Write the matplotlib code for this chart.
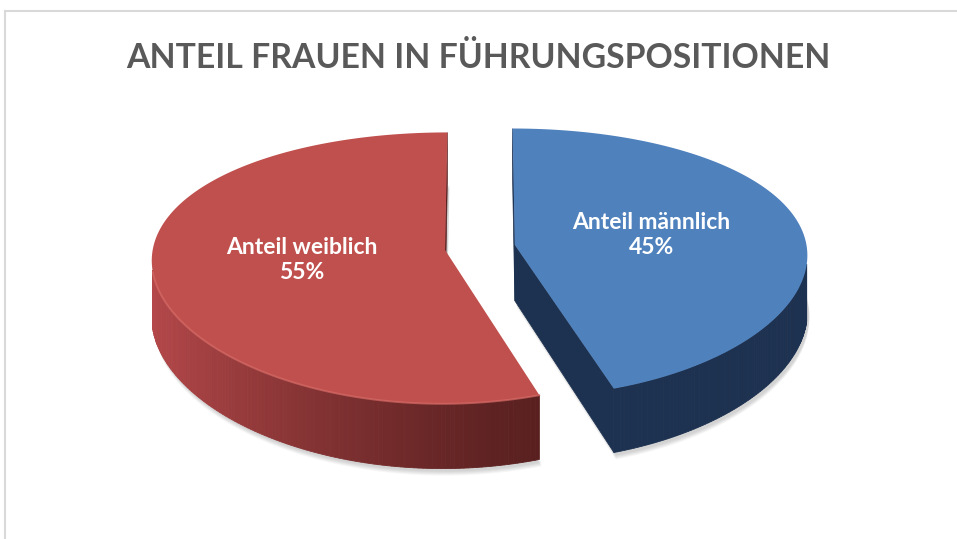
import numpy as np
import matplotlib.pyplot as plt
from matplotlib.lines import Line2D

# data
labels = ["Anteil männlich", "Anteil weiblich"]
values = [45, 55]
top_colors = ["#4F81BD", "#C0504D"]
wall_light = ["#25416A", "#B5484A"]
wall_dark = ["#1D3150", "#5A2020"]
title = "ANTEIL FRAUEN IN FÜHRUNGSPOSITIONEN"

# fake 3d projection (pixel space, y down)
CX, CY = 480, 247.5
RX, RY = 292, 132.6
H = 56
PX, PY = 0.07, 0.133   # perspective strength, horizontal / vertical
E = 0.121              # explode distance
CAM = np.array([0.0, -1.0 / PY])


def proj(X, Y, Z):
    wx = 1 + PX * Y
    wy = 1 + PY * Y
    return CX + RX * X / wx, CY - (RY * Y + H * Z) / wy


def mix(c1, c2, t):
    a = np.array(plt.matplotlib.colors.to_rgb(c1))
    b = np.array(plt.matplotlib.colors.to_rgb(c2))
    return tuple(b + (a - b) * t)


fig = plt.figure(figsize=(9.57, 5.39), dpi=100)
ax = fig.add_axes([0, 0, 1, 1])
ax.set_xlim(0, 957)
ax.set_ylim(539, 0)
ax.axis("off")

# chart frame
fig.add_artist(Line2D([4.5 / 957, 4.5 / 957], [0, 1 - 10.5 / 539], color="#D9D9D9", lw=1.5))
fig.add_artist(Line2D([4.5 / 957, 1], [1 - 10.5 / 539, 1 - 10.5 / 539], color="#D9D9D9", lw=1.5))

fig.text(0.5, 1 - 58 / 539, title, ha="center", va="center", fontsize=24.3,
         fontweight="bold", color="#595959", family="Lato")

total = float(sum(values))
start = 0.0
for i, v in enumerate(values):
    t1 = start
    t2 = start + 2 * np.pi * v / total
    start = t2
    tm = (t1 + t2) / 2
    ox, oy = E * np.sin(tm), E * np.cos(tm)
    t = np.linspace(t1, t2, 240)
    rx, ry = ox + np.sin(t), oy + np.cos(t)

    # soft shadow under the slice
    bx, by = proj(np.r_[ox, rx], np.r_[oy, ry], -1)
    for k in range(5):
        ax.fill(bx + 2, by + 3 + k, color="#000000", alpha=0.035, lw=0)

    # radial faces
    for th, nrm in [(t1, (-np.cos(t1), np.sin(t1))), (t2, (np.cos(t2), -np.sin(t2)))]:
        if np.dot(CAM - np.array([ox, oy]), nrm) <= 0:
            continue
        qx = [ox, ox + np.sin(th), ox + np.sin(th), ox]
        qy = [oy, oy + np.cos(th), oy + np.cos(th), oy]
        qz = [0, 0, -1, -1]
        px, py = proj(np.array(qx), np.array(qy), np.array(qz))
        ax.fill(px, py, color=wall_dark[i], lw=0.5, ec=wall_dark[i])

    # outer wall
    rim_x, rim_y = [], []
    for j in range(len(t) - 1):
        a, b = t[j], t[j + 1]
        c = (a + b) / 2
        n = np.array([np.sin(c), np.cos(c)])
        p = np.array([ox + np.sin(c), oy + np.cos(c)])
        if np.dot(CAM - p, n) <= 0:
            continue
        qx = np.array([rx[j], rx[j + 1], rx[j + 1], rx[j]])
        qy = np.array([ry[j], ry[j + 1], ry[j + 1], ry[j]])
        qz = np.array([0, 0, -1, -1])
        px, py = proj(qx, qy, qz)
        lt = np.clip((np.cos(c - 1.5 * np.pi) + 0.31) / 1.31, 0, 1) ** 1.3
        col = mix(wall_light[i], wall_dark[i], lt)
        ax.fill(px, py, color=col, lw=0.6, ec=col)
        rim_x.append(px[0])
        rim_y.append(py[0])

    # top face
    px, py = proj(np.r_[ox, rx], np.r_[oy, ry], 0)
    ax.fill(px, py, color=top_colors[i], lw=0)
    if i == 1:
        ax.plot(rim_x, rim_y, color="#D66A66", lw=1.4, alpha=0.7, solid_capstyle="round")

    # label
    lx, ly = proj(ox + 0.485 * np.sin(tm), oy + 0.485 * np.cos(tm), 0)
    ax.text(lx - 2, ly, "%s\n%d%%" % (labels[i], v), ha="center", va="center",
            fontsize=16.5, fontweight="bold", color="white", family="Lato",
            linespacing=1.22)

fig.savefig("out.png", dpi=100)
